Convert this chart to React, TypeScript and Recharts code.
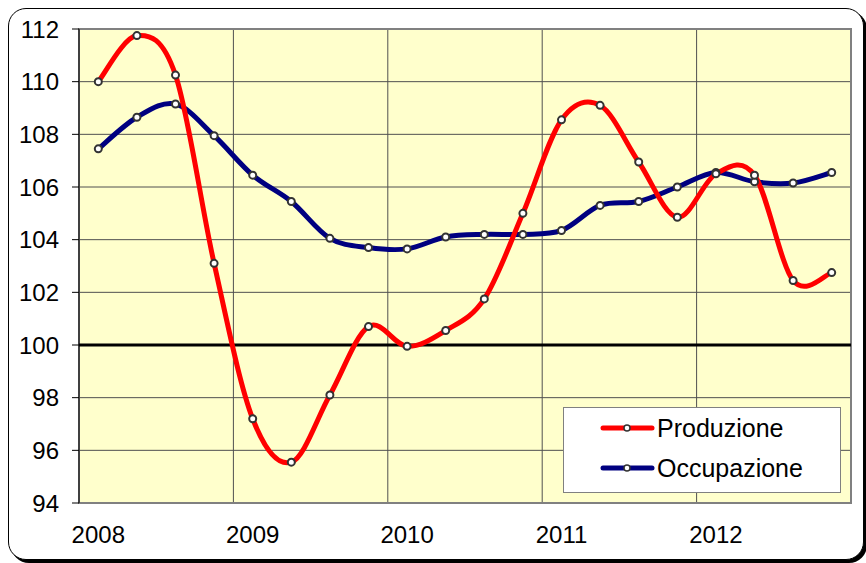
import React from 'react';
import {
  LineChart,
  Line,
  XAxis,
  YAxis,
  CartesianGrid,
  ReferenceLine,
  ReferenceArea,
  Legend,
} from 'recharts';

// quarterly points, 2008 Q1 .. 2012 Q4
const years = ['2008', '2009', '2010', '2011', '2012'];
const quarters = ['T1', 'T2', 'T3', 'T4'];
const produzione = [
  110.0, 111.75, 110.25, 103.1,
  97.2, 95.55, 98.1, 100.7,
  99.95, 100.55, 101.75, 105.0,
  108.55, 109.1, 106.95, 104.85,
  106.5, 106.45, 102.45, 102.75,
];
const occupazione = [
  107.45, 108.65, 109.15, 107.95,
  106.45, 105.45, 104.05, 103.7,
  103.65, 104.1, 104.2, 104.2,
  104.35, 105.3, 105.45, 106.0,
  106.55, 106.2, 106.15, 106.55,
];
const yTicks = [94, 96, 98, 100, 102, 104, 106, 108, 110, 112];

const data = produzione.map((p, i) => ({
  x: i + 0.5,
  periodo: `${years[Math.floor(i / 4)]} ${quarters[i % 4]}`,
  produzione: p,
  occupazione: occupazione[i],
}));

const yearTicks = years.map((_, i) => i * 4 + 0.5);
const gridTicks = [0, 4, 8, 12, 16, 20];

// smoothed line like the spreadsheet one (catmull-rom through the points)
const smoothCurve: any = (context: any) => {
  let pts: number[][] = [];
  return {
    areaStart() {},
    areaEnd() {},
    lineStart() {
      pts = [];
    },
    point(x: number, y: number) {
      pts.push([+x, +y]);
    },
    lineEnd() {
      if (!pts.length) return;
      context.moveTo(pts[0][0], pts[0][1]);
      for (let i = 0; i < pts.length - 1; i++) {
        const p0 = pts[i - 1] || pts[i];
        const p1 = pts[i];
        const p2 = pts[i + 1];
        const p3 = pts[i + 2] || pts[i + 1];
        context.bezierCurveTo(
          p1[0] + (p2[0] - p0[0]) / 6,
          p1[1] + (p2[1] - p0[1]) / 6,
          p2[0] - (p3[0] - p1[0]) / 6,
          p2[1] - (p3[1] - p1[1]) / 6,
          p2[0],
          p2[1]
        );
      }
    },
  };
};

const dot = { r: 3.5, fill: '#fff', stroke: '#333', strokeWidth: 2 };
const font = '"Liberation Sans", Arial, sans-serif';

const LegendBox = () => {
  const items = [
    { label: 'Produzione', color: '#FF0000' },
    { label: 'Occupazione', color: '#000080' },
  ];
  return (
    <div
      style={{
        width: 278,
        height: 86,
        boxSizing: 'border-box',
        background: '#fff',
        border: '1px solid #808080',
        fontFamily: font,
        fontSize: 25,
        lineHeight: '28px',
        color: '#000',
        paddingTop: 0,
      }}
    >
      {items.map((it) => (
        <div key={it.label} style={{ display: 'flex', alignItems: 'center', height: 40 }}>
          <svg width={57} height={12} style={{ marginLeft: 36 }}>
            <line x1={3} y1={6} x2={52} y2={6} stroke={it.color} strokeWidth={5} strokeLinecap="round" />
            <circle cx={27} cy={6} r={3} fill="#fff" stroke="#333" strokeWidth={1.5} />
          </svg>
          <span>{it.label}</span>
        </div>
      ))}
    </div>
  );
};

export default function App() {
  return (
    <div
      style={{
        position: 'absolute',
        left: 8,
        top: 8,
        width: 856,
        height: 552,
        boxSizing: 'border-box',
        border: '1px solid #000',
        borderRadius: 18,
        boxShadow: '3px 3px 0 #000',
        background: '#fff',
      }}
    >
      <LineChart
        width={854}
        height={550}
        data={data}
        margin={{ top: 20, right: 12, left: 0, bottom: 26 }}
        style={{ fontFamily: font }}
      >
        <XAxis xAxisId="grid" type="number" dataKey="x" domain={[0, 20]} ticks={gridTicks} hide />
        <XAxis
          type="number"
          dataKey="x"
          domain={[0, 20]}
          ticks={yearTicks}
          interval={0}
          tickFormatter={(v: number) => years[Math.floor(v / 4)]}
          tickSize={0}
          tickMargin={23}
          height={30}
          fontSize={24}
          axisLine={{ stroke: '#808080', strokeWidth: 2 }}
          tick={{ fill: '#000', fontSize: 24 }}
        />
        <YAxis
          domain={[94, 112]}
          ticks={yTicks}
          interval={0}
          width={70}
          tickSize={7}
          tickMargin={13}
          fontSize={24}
          axisLine={{ stroke: '#000' }}
          tickLine={{ stroke: '#000' }}
          tick={{ fill: '#000', fontSize: 24 }}
        />
        <CartesianGrid xAxisId="grid" stroke="#505050" strokeOpacity={1} fill="#FFFFCC" fillOpacity={1} />
        <ReferenceLine y={100} stroke="#000" strokeWidth={3} />
        <ReferenceArea
          x1={0}
          x2={20}
          y1={94}
          y2={112}
          fill="none"
          stroke="#808080"
          strokeWidth={2}
          ifOverflow="visible"
        />
        <Line
          dataKey="occupazione"
          name="Occupazione"
          type={smoothCurve}
          stroke="#000080"
          strokeWidth={5}
          dot={dot}
          activeDot={false}
          isAnimationActive={false}
        />
        <Line
          dataKey="produzione"
          name="Produzione"
          type={smoothCurve}
          stroke="#FF0000"
          strokeWidth={5}
          dot={dot}
          activeDot={false}
          isAnimationActive={false}
        />
        <Legend
          layout="horizontal"
          align="center"
          verticalAlign="middle"
          content={<LegendBox />}
          wrapperStyle={{ left: 554, top: 398, width: 278, height: 86 }}
        />
      </LineChart>
    </div>
  );
}
